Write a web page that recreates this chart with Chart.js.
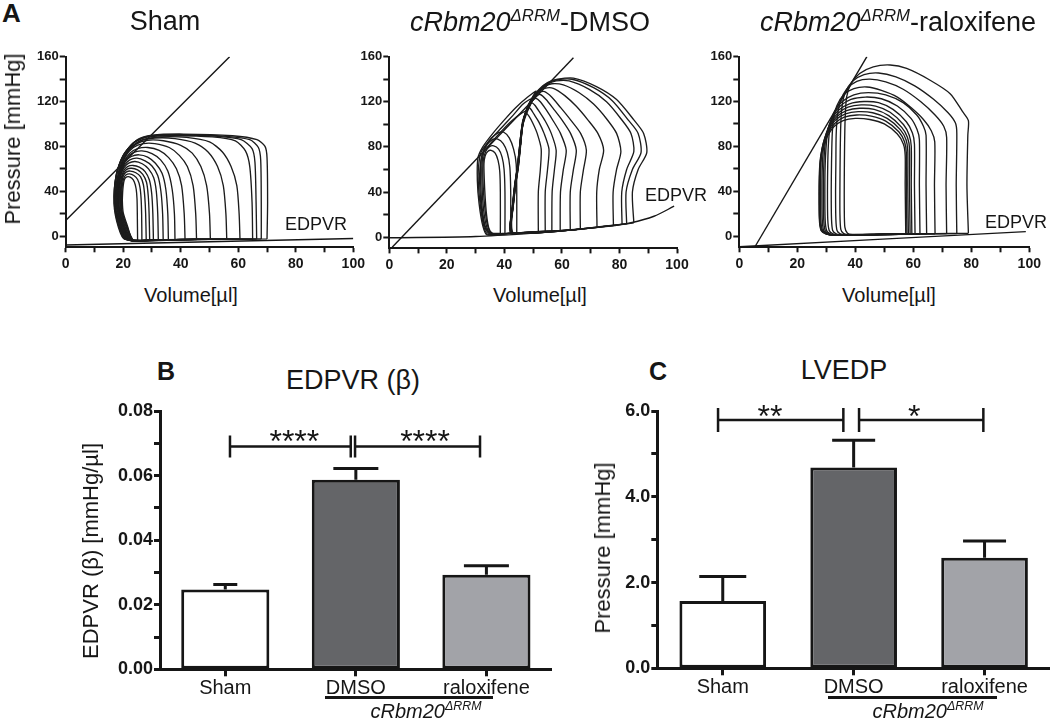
<!DOCTYPE html>
<html>
<head>
<meta charset="utf-8">
<script src="https://cdn.jsdelivr.net/npm/chart.js@4.4.1/dist/chart.umd.min.js"></script>
<style>
html, body { margin: 0; padding: 0; background: #fff; }
#fig { position: relative; width: 1050px; height: 719px; overflow: hidden; background: #fff; }
#fig canvas { position: absolute; }
.lbl { position: absolute; line-height: 1; white-space: nowrap; font-family: 'Liberation Sans', Arial, sans-serif; color: #161616; }
.lbl sup { font-size: 0.62em; vertical-align: 0; position: relative; top: -0.62em; }
.rule { position: absolute; background: #161616; }
</style>
</head>
<body>
<div id="fig">
  <canvas id="pvSham" width="380" height="250" style="left:0;top:30px"></canvas>
  <canvas id="pvDmso" width="350" height="250" style="left:360px;top:30px"></canvas>
  <canvas id="pvRalox" width="340" height="250" style="left:710px;top:30px"></canvas>
  <canvas id="barEdpvr" width="530" height="305" style="left:40px;top:395px"></canvas>
  <canvas id="barLvedp" width="475" height="305" style="left:575px;top:395px"></canvas>
</div>
<script>
// ---- data ----
const volumeTicks = [0, 10, 20, 30, 40, 50, 60, 70, 80, 90, 100];
const pressureTicks = [0, 20, 40, 60, 80, 100, 120, 140, 160];

// pressure-volume loops, [volume µl, pressure mmHg]
const shamLoops = [
  [[70,-2.5],[70.2,30],[70,70],[69.3,80],[66.5,86],[58,89.5],[41,91],[30,90],[25,86],[20.6,74],[17.7,56],[16.8,29],[18.3,8],[20.6,-3],[45,-2.8],[70,-2.5]],
  [[68,-2.5],[68,30],[67.8,68],[67,79],[64,86],[56,89],[40,90.5],[29.5,89.5],[24.5,85],[20.3,73],[17.6,55],[16.9,29],[18.5,8],[20.8,-3],[45,-2.8],[68,-2.5]],
  [[66.4,-2.6],[66.2,30],[65.8,66],[64.8,78],[61,86],[53,89],[39,90],[29,89],[24,84],[20,72],[17.6,54],[17,29],[18.7,8],[21,-3],[45,-2.8],[66.4,-2.6]],
  [[65,-2.6],[64.8,30],[64,62],[62.5,76],[59,85],[51,88.5],[38,89.5],[28.5,88.5],[23.5,83],[19.8,71],[17.6,53],[17.1,29],[18.8,8],[21.2,-3.2],[45,-3],[65,-2.6]],
  [[60.6,-2.7],[60.3,20],[59.5,45],[57.5,62],[54.5,75],[50,84],[42,88],[33,88.5],[27,86],[22.5,79],[19.5,66],[17.8,50],[17.3,28],[19,8],[21.4,-3.3],[40,-3],[60.6,-2.7]],
  [[56,-2.8],[55.7,20],[54.8,45],[52.8,62],[49.5,75],[45,83],[38,87],[31,87.5],[26,85],[22,77],[19.3,64],[17.8,48],[17.5,28],[19.2,8],[21.6,-3.4],[40,-3],[56,-2.8]],
  [[50.3,-2.9],[50,20],[49,45],[47,62],[44,74],[40,81],[34,85],[28.5,85.5],[24.5,82],[21.3,74],[19,61],[17.9,46],[17.7,28],[19.4,8],[21.8,-3.5],[35,-3.2],[50.3,-2.9]],
  [[45.5,-3],[45.2,20],[44.3,45],[42.3,62],[39.5,72],[36,79],[31,82.5],[27,82.5],[23.5,79],[20.8,71],[18.8,58],[18,44],[17.9,28],[19.6,8],[22,-3.6],[33,-3.3],[45.5,-3]],
  [[41.5,-3.1],[41.2,20],[40.3,45],[38.5,60],[35.8,70],[32.5,76.5],[28.5,79],[25,78],[22.3,74],[20.2,66],[18.7,55],[18.1,42],[18,28],[19.8,8],[22.2,-3.7],[32,-3.4],[41.5,-3.1]],
  [[38,-3.2],[37.8,20],[37,42],[35.5,58],[33,68],[30,73.5],[26.5,76],[23.5,74.5],[21.3,70],[19.7,62],[18.6,52],[18.2,40],[18.1,26],[20,8],[22.4,-3.8],[30,-3.5],[38,-3.2]],
  [[35.7,-3.3],[35.5,20],[34.8,42],[33.5,56],[31.2,65],[28.5,70.5],[25.5,72.5],[22.8,71],[20.8,66.5],[19.5,59],[18.6,50],[18.3,38],[18.3,25],[20.1,8],[22.6,-3.9],[29,-3.6],[35.7,-3.3]],
  [[33.9,-3.4],[33.7,20],[33.1,40],[32,54],[30,62.5],[27.6,67],[24.8,69.5],[22.3,68],[20.5,63.5],[19.3,57],[18.6,48],[18.4,37],[18.5,25],[20.3,8],[22.8,-4],[28,-3.7],[33.9,-3.4]],
  [[32.2,-3.5],[32,20],[31.5,40],[30.6,52],[28.8,60],[26.6,64.5],[24.1,66.5],[21.9,65],[20.3,61],[19.3,55],[18.7,46],[18.6,36],[18.7,24],[20.5,8],[23,-4],[27.5,-3.8],[32.2,-3.5]],
  [[30.5,-3.6],[30.3,20],[29.9,38],[29.1,50],[27.6,57.5],[25.6,61.5],[23.4,63],[21.5,62],[20.2,58.5],[19.4,52.5],[18.9,45],[18.8,35],[19,24],[20.7,8],[23.2,-4.1],[27,-3.9],[30.5,-3.6]],
  [[29.2,-3.7],[29,20],[28.7,36],[28.1,48],[26.8,55],[25,59],[22.9,60.5],[21.2,59.5],[20.1,56],[19.5,50.5],[19.1,43],[19,34],[19.3,23],[21,8],[23.4,-4.1],[26.5,-4],[29.2,-3.7]],
  [[28,-3.8],[27.8,20],[27.5,35],[27,46],[26,53],[24.4,56.5],[22.5,58],[21,57],[20.1,54],[19.6,49],[19.3,42],[19.2,33],[19.5,22],[21.2,8],[23.6,-4.2],[26,-4],[28,-3.8]],
  [[26.5,-3.9],[26.4,20],[26.2,34],[25.8,44],[25,50.5],[23.7,54],[22.2,55.5],[20.9,54.5],[20.2,51.5],[19.8,47],[19.5,40],[19.4,32],[19.7,21],[21.4,8],[23.6,-4.2],[26.5,-3.9]],
  [[25,-4],[24.9,20],[24.8,33],[24.5,42],[23.9,48],[23,51.5],[21.8,53],[20.8,52],[20.3,49.5],[20,45],[19.8,39],[19.7,31],[20,21],[21.6,8],[23.2,-4.2],[25,-4]]
];
const shamEspvr = [[0, 14], [57, 160]];
const shamEdpvr = [[0, -8], [100, -2.2]];

const dmsoLoops = [
  [[85,12.7],[84.5,40],[86.5,60],[89.5,75],[88.4,92],[85,104],[79,122],[72,133.5],[64,141],[58.5,140],[55,137],[52,131],[49.5,123],[47.5,112],[46.3,100],[45.5,80],[44.6,60],[43.7,45],[42.8,25],[42,10],[42.5,3.5],[60,5.5],[85,12.7]],
  [[82.5,11.8],[82.3,40],[84.5,60],[87.5,75],[86.5,92],[83,104],[77.5,121],[71,132.5],[63.5,140],[58.3,139.5],[55,136.5],[52.1,130.5],[49.6,122.5],[47.6,111.5],[46.4,100],[45.6,80],[44.7,60],[43.8,45],[42.9,25],[42.1,10],[42.6,3.5],[60,5.5],[82.5,11.8]],
  [[80.9,11.3],[80.8,40],[82.5,60],[85,76],[84,92],[80.5,105],[75.5,120],[69.5,131],[62.5,138.5],[58,138.5],[54.8,135.5],[52,130],[49.5,122],[47.5,111],[46.3,100],[45.5,80],[44.6,60],[43.7,45],[42.8,25],[42,10],[42.5,3.5],[60,5.5],[80.9,11.3]],
  [[77.9,10.3],[77.8,40],[79,60],[80.5,76],[79,92],[75.5,105],[71,118],[66,128],[60.5,135],[56.5,136],[54,133.5],[51.7,129],[49.3,121],[47.4,110],[46.2,100],[45.4,80],[44.5,60],[43.6,45],[42.7,25],[41.9,10],[42.4,3.5],[60,5.5],[77.9,10.3]],
  [[72.2,8.6],[72.1,40],[73,60],[74.5,77],[72.5,92],[69,104],[65,116],[61,125.5],[57,132],[54,132],[52,129],[50.5,124],[48.8,117],[47.3,108],[46.2,98],[45.4,80],[44.5,60],[43.6,45],[42.7,25],[42,10],[42.5,3.5],[58,5.3],[72.2,8.6]],
  [[66.4,7],[66.4,40],[67.5,60],[68.5,77],[66.5,92],[63,104],[59.5,115],[56.5,124],[54,129],[52,128],[50.5,124],[49,117],[47.5,108],[46.3,98],[45.5,80],[44.6,60],[43.7,45],[42.8,25],[42.1,10],[42.6,3.6],[55,5],[66.4,7]],
  [[62.9,6.3],[62.9,40],[64,60],[65,77],[63,92],[60,104],[57,114],[54.5,122],[52.5,126.5],[50.8,124.5],[49.5,121],[48,114],[46.8,105],[46,95],[45.4,80],[44.5,60],[43.6,45],[42.8,25],[42.1,10],[42.6,3.6],[52,4.8],[62.9,6.3]],
  [[59.4,5.8],[59.5,40],[60.5,60],[61.5,77],[59.5,92],[57,103],[54.5,113],[52.5,120],[51,123],[49.8,121],[48.6,116],[47.3,109],[46.3,100],[45.6,88],[45.2,75],[44.4,60],[43.5,45],[42.7,25],[42.2,10],[42.7,3.7],[50,4.6],[59.4,5.8]],
  [[56.5,5.4],[56.6,40],[57.4,60],[58,77],[56.3,92],[54.2,103],[52.2,111],[50.6,117],[49.5,119],[48.5,116],[47.5,110],[46.6,102],[45.9,92],[45.3,80],[44.5,62],[43.7,47],[42.9,27],[42.3,12],[42.8,3.8],[49,4.5],[56.5,5.4]],
  [[54.2,5.1],[54.2,40],[55,60],[55.5,78],[53.8,92],[52,102],[50.3,109],[49,114],[48.2,115],[47.5,111],[46.7,104],[46.1,97],[45.6,88],[45.2,78],[44.5,62],[43.7,47],[43,27],[42.4,12],[42.9,3.9],[48,4.4],[54.2,5.1]],
  [[51.8,4.8],[51.8,40],[52.5,60],[52.8,78],[51.4,92],[49.9,101],[48.6,107],[47.6,110],[47,108],[46.3,102],[45.9,95],[45.5,86],[45.1,76],[44.5,62],[43.8,47],[43.1,28],[42.5,13],[43,4],[47,4.3],[51.8,4.8]],
  [[42.5,3.5],[34,2],[32.5,10],[31.2,30],[30.6,50],[30.8,70],[32.5,80],[36,92],[40,104],[44,115],[48,124],[51,129.5],[50,125],[47.8,113],[46.5,101],[45.6,82],[44.6,60],[43.7,45],[42.8,25],[42,10],[42.5,3.5]],
  [[42.6,3.5],[34.5,2.2],[33,8],[31.8,25],[31,45],[31,62],[32,76],[35,86],[39,97],[43,108],[46.5,118],[49.3,122.5],[48,115],[46.6,103],[45.7,85],[44.8,62],[43.8,45],[42.9,25],[42.1,10],[42.6,3.5]],
  [[42.7,3.6],[35.2,2.3],[33.5,7],[32.2,22],[31.5,42],[31.5,60],[32.5,74],[35.5,84],[39,94],[42.5,103],[46,110],[47.4,111.5],[46.5,103],[45.8,88],[45,65],[44,47],[43,26],[42.2,11],[42.7,3.6]],
  [[44.3,4],[44.3,40],[44.1,65],[43.2,78],[41.7,88],[39.8,93],[37.8,92.5],[35.5,88],[33.5,81],[32.2,73],[31.7,62],[31.8,45],[32.3,25],[33.3,10],[35,3],[37,2.5],[44.3,4]],
  [[42.2,3.7],[42.2,40],[41.9,62],[41,75],[39.6,83],[37.7,87],[35.8,86.5],[34,82],[32.8,75],[32.2,65],[32.2,50],[32.5,32],[33.3,15],[34.5,5],[36.5,2.5],[42.2,3.7]],
  [[40.2,3.5],[40.2,40],[39.9,60],[39.2,71],[38,78],[36.3,81],[34.7,80],[33.5,76],[32.7,69],[32.5,58],[32.7,42],[33.2,26],[34,12],[35.2,4],[37,2.7],[40.2,3.5]],
  [[38.6,3.3],[38.6,40],[38.4,58],[37.8,68],[36.8,74.5],[35.4,77],[34.2,76],[33.3,72],[32.9,65],[33,52],[33.3,36],[33.8,20],[34.6,8],[35.8,3.5],[38.6,3.3]]
];
const dmsoEspvr = [[1, -9], [64, 159]];
const dmsoEdpvr = [[0,-0.6],[30,0.5],[50,3.5],[64,6.5],[76,9.5],[84,12.7],[92,18.5],[99,27.4]];

const raloxLoops = [
  [[79,2.5],[78.5,45],[78.8,90],[79,103],[77,111],[72.7,127],[65.8,139],[57.7,149.5],[52,152.6],[46.2,151],[41.5,145],[38.5,136],[37,124],[36.5,105],[36.3,80],[36.2,50],[36.2,25],[36.4,8],[37.3,2.5],[39,1.5],[55,2],[79,2.5]],
  [[75,2.3],[74.8,45],[75,92],[74.5,101],[72,110],[67,122],[60.5,134],[54,142],[48,145.5],[43,144],[39,138],[36.5,128],[35.4,115],[35,100],[34.8,75],[34.7,45],[34.7,20],[35,6],[36,2.2],[38,1.3],[55,1.8],[75,2.3]],
  [[71.5,2.2],[71.3,45],[71.5,88],[70.5,98],[67.5,108],[62.5,120],[56.5,131],[50.5,137.5],[45,140],[40.5,138],[37,131],[34.8,120],[33.8,106],[33.4,90],[33.3,65],[33.2,40],[33.3,15],[33.7,5],[34.8,2],[36.5,1.2],[50,1.7],[71.5,2.2]],
  [[67.5,2.1],[67.3,45],[67.4,84],[66.2,94],[63.5,104],[59.5,114],[54.5,124],[49,130],[44,133],[39.5,131.5],[36,126],[33.6,116],[32.4,103],[32,88],[31.8,65],[31.7,40],[31.8,15],[32.2,5],[33.4,2],[35,1.1],[50,1.6],[67.5,2.1]],
  [[64.6,2],[64.4,45],[64.4,90],[63.5,98],[61.2,108],[56.5,119],[50.5,126],[44.5,128],[39.5,126],[35.5,120],[32.8,111],[31.4,99],[30.8,85],[30.5,65],[30.4,40],[30.5,15],[31,5],[32.3,2],[34,1],[48,1.5],[64.6,2]],
  [[62.3,1.9],[62.1,45],[62.1,86],[61.3,95],[59.2,105],[54.5,116],[49,122.5],[43.5,124],[38.5,122],[34.8,116],[32.2,107],[30.7,96],[30,82],[29.6,62],[29.5,40],[29.6,15],[30.1,5],[31.4,2],[33,1],[46,1.4],[62.3,1.9]],
  [[60.6,1.8],[60.4,45],[60.4,82],[59.7,92],[57.6,102],[53,113],[48,119],[43,120],[38,118],[34.3,112.5],[31.8,104],[30.3,93],[29.5,80],[29.1,60],[29,40],[29.1,15],[29.6,5],[30.9,2],[32.5,1],[46,1.3],[60.6,1.8]],
  [[59.5,1.8],[59.3,45],[59.3,80],[58.6,90],[56.6,99.5],[52,110.5],[47,116],[42,117],[37.5,115],[34,109.5],[31.5,101],[29.9,91],[29,78],[28.6,60],[28.5,40],[28.6,15],[29.1,5],[30.5,2],[32,1],[46,1.3],[59.5,1.8]],
  [[58.9,1.7],[58.7,45],[58.7,78],[58,88],[56,97],[51.5,107.5],[46.5,113],[41.5,114],[37,112],[33.6,106.5],[31.2,98],[29.5,88],[28.5,76],[28.1,60],[28,40],[28.1,15],[28.7,5],[30.2,2],[32,1],[46,1.2],[58.9,1.7]],
  [[58.3,1.7],[58.1,45],[58.1,76],[57.5,86],[55.5,95],[51,105],[46,110],[41,111],[36.6,109],[33.2,103.5],[30.9,95],[29.2,85],[28.2,73],[27.8,58],[27.7,40],[27.8,15],[28.4,5],[30,2],[32,1],[46,1.2],[58.3,1.7]],
  [[57.8,1.7],[57.6,45],[57.6,74],[57,84],[55,93],[50.5,102.5],[45.5,107],[40.5,108],[36.2,106],[32.9,100.5],[30.6,92],[29,82],[28,70],[27.6,56],[27.5,40],[27.6,15],[28.2,5],[29.8,2],[32,1],[46,1.2],[57.8,1.7]],
  [[57.4,1.7],[57.2,45],[57.2,72],[56.6,82],[54.5,91],[50,100],[45,104],[40,105],[35.8,103],[32.6,97.5],[30.4,89],[28.9,79],[28,67],[27.7,54],[27.6,38],[27.7,15],[28.3,5],[30,2],[32,1],[46,1.3],[57.4,1.7]]
];
const raloxEspvr = [[5.4, -9.5], [44, 160]];
const raloxEdpvr = [[0, -9.5], [98.8, 4]];

// bar panels
const barGroups = ['Sham', 'DMSO', 'raloxifene'];
const edpvrMean = [0.0247, 0.0587, 0.0293];
const edpvrSem = [0.0016, 0.0035, 0.0028];
const edpvrTicks = [0, 0.01, 0.02, 0.03, 0.04, 0.05, 0.06, 0.07, 0.08];
const edpvrSig = [{ from: 0, to: 1, y: 0.069, label: '****' }, { from: 1, to: 2, y: 0.069, label: '****' }];
const lvedpMean = [1.57, 4.68, 2.58];
const lvedpSem = [0.57, 0.64, 0.39];
const lvedpTicks = [0, 1, 2, 3, 4, 5, 6];
const lvedpSig = [{ from: 0, to: 1, y: 5.79, label: '**' }, { from: 1, to: 2, y: 5.79, label: '*' }];

// ---- drawing ----
const INK = '#161616';
Chart.defaults.font.family = "'Liberation Sans', Arial, sans-serif";
Chart.defaults.color = INK;

const toXY = pts => pts.map(([x, y]) => ({ x, y }));

function makePv(id, loops, espvr, edpvr, g) {
  const datasets = loops.map(loop => ({
    data: toXY(loop), showLine: true, pointRadius: 0, borderColor: '#1c1c1c',
    borderWidth: 1.35, tension: 0.25, fill: false
  }));
  datasets.push({ data: toXY(espvr), showLine: true, pointRadius: 0, borderColor: INK, borderWidth: 1.4 });
  datasets.push({ data: toXY(edpvr), showLine: true, pointRadius: 0, borderColor: INK, borderWidth: 1.4, tension: 0.3 });

  new Chart(document.getElementById(id), {
    type: 'scatter',
    data: { datasets },
    options: {
      responsive: false, animation: false, devicePixelRatio: 1,
      layout: { padding: { top: g.padTop, right: g.padRight, left: 0, bottom: 0 } },
      plugins: { legend: { display: false }, tooltip: { enabled: false } },
      scales: {
        x: {
          type: 'linear', min: 0, max: 100,
          afterBuildTicks: s => { s.ticks = volumeTicks.map(v => ({ value: v })); },
          afterFit: s => { s.height = g.xHeight; },
          grid: { drawOnChartArea: false, tickLength: 5, tickWidth: 2, tickColor: INK },
          border: { width: 2, color: INK },
          ticks: { autoSkip: false, maxRotation: 0, padding: 3, color: INK,
            font: { size: 14, weight: 'bold' },
            callback: v => (v % 20 === 0 ? String(v) : '') }
        },
        y: {
          type: 'linear', min: -10, max: 160,
          afterBuildTicks: s => { s.ticks = pressureTicks.map(v => ({ value: v })); },
          afterFit: s => { s.width = g.yWidth; },
          grid: { drawOnChartArea: false, tickLength: 6, tickWidth: 2, tickColor: INK },
          border: { width: 2, color: INK },
          ticks: { autoSkip: false, padding: 1, color: INK,
            font: { size: 13, weight: 'bold' },
            callback: v => (v % 40 === 0 ? String(v) : '') }
        }
      }
    }
  });
}

function errorBars(sems, caps) {
  return {
    id: 'errorBars',
    afterDatasetsDraw(chart) {
      const { ctx, scales: { y } } = chart;
      const meta = chart.getDatasetMeta(0);
      const vals = chart.data.datasets[0].data;
      ctx.save();
      ctx.strokeStyle = INK; ctx.lineWidth = 3;
      meta.data.forEach((bar, i) => {
        const top = y.getPixelForValue(vals[i] + sems[i]);
        ctx.beginPath();
        ctx.moveTo(bar.x, bar.y); ctx.lineTo(bar.x, top);
        ctx.moveTo(bar.x - caps[i] / 2, top); ctx.lineTo(bar.x + caps[i] / 2, top);
        ctx.stroke();
      });
      ctx.restore();
    }
  };
}

function sigBrackets(items, st) {
  return {
    id: 'sigBrackets',
    afterDraw(chart) {
      const { ctx, scales: { x, y } } = chart;
      ctx.save();
      ctx.strokeStyle = INK; ctx.fillStyle = INK; ctx.lineWidth = 2.5;
      ctx.font = st.font; ctx.textAlign = 'center'; ctx.textBaseline = 'alphabetic';
      items.forEach((s, k) => {
        const o = st.offsets[k];
        const x1 = x.getPixelForValue(s.from) + o[0];
        const x2 = x.getPixelForValue(s.to) + o[1];
        const yy = y.getPixelForValue(s.y);
        ctx.beginPath();
        ctx.moveTo(x1, yy); ctx.lineTo(x2, yy);
        ctx.moveTo(x1, yy - st.cap); ctx.lineTo(x1, yy + st.cap);
        ctx.moveTo(x2, yy - st.cap); ctx.lineTo(x2, yy + st.cap);
        ctx.stroke();
        ctx.fillText(s.label, (x1 + x2) / 2 + o[2], yy + st.lift);
      });
      ctx.restore();
    }
  };
}

function makeBar(id, means, sems, ticks, yMax, digits, sig, g) {
  new Chart(document.getElementById(id), {
    type: 'bar',
    data: {
      labels: barGroups,
      datasets: [{
        data: means,
        backgroundColor: ['#ffffff', '#646568', '#a2a3a8'],
        borderColor: INK, borderWidth: 3, borderSkipped: false,
        barPercentage: g.barPct, categoryPercentage: 1
      }]
    },
    options: {
      responsive: false, animation: false, devicePixelRatio: 1,
      layout: { padding: { top: g.padTop, right: g.padRight, left: 0, bottom: 0 } },
      plugins: { legend: { display: false }, tooltip: { enabled: false } },
      scales: {
        x: {
          afterFit: s => { s.height = g.xHeight; },
          grid: { offset: false, drawOnChartArea: false, tickLength: 7, tickWidth: 3, tickColor: INK },
          border: { width: 3, color: INK },
          ticks: { padding: 0, color: INK, font: { size: 20 }, maxRotation: 0 }
        },
        y: {
          min: 0, max: yMax,
          afterBuildTicks: s => { s.ticks = ticks.map(v => ({ value: v })); },
          afterFit: s => { s.width = g.yWidth; },
          grid: { drawOnChartArea: false, tickLength: 6, tickWidth: 3, tickColor: INK },
          border: { width: 3, color: INK },
          ticks: { autoSkip: false, padding: 1, color: INK, font: { size: 18, weight: 'bold' },
            callback: (v, i) => (i % 2 === 0 ? Number(v).toFixed(digits) : '') }
        }
      }
    },
    plugins: [errorBars(sems, g.caps), sigBrackets(sig, g.sig)]
  });
}

makePv('pvSham', shamLoops, shamEspvr, shamEdpvr, { yWidth: 65.7, xHeight: 32.7, padTop: 26.7, padRight: 26.7 });
makePv('pvDmso', dmsoLoops, dmsoEspvr, dmsoEdpvr, { yWidth: 29.3, xHeight: 31.6, padTop: 26.7, padRight: 33 });
makePv('pvRalox', raloxLoops, raloxEspvr, raloxEdpvr, { yWidth: 29.3, xHeight: 32.7, padTop: 26.7, padRight: 20.7 });

makeBar('barEdpvr', edpvrMean, edpvrSem, edpvrTicks, 0.08, 2, edpvrSig, {
  yWidth: 120, xHeight: 30.7, padTop: 16, padRight: 18.3, barPct: 0.675, caps: [24, 45, 45],
  sig: { font: "32px 'Liberation Sans', Arial, sans-serif", cap: 11, lift: 5, offsets: [[4.7, -5.1, 4], [-0.8, -6.4, 7.5]] }
});
makeBar('barLvedp', lvedpMean, lvedpSem, lvedpTicks, 6, 1, lvedpSig, {
  yWidth: 82.3, xHeight: 31.7, padTop: 16, padRight: 0, barPct: 0.662, caps: [47, 43, 43],
  sig: { font: "32px 'Liberation Sans', Arial, sans-serif", cap: 12, lift: 7, offsets: [[-4.7, -10.3, -10.7], [5.4, -1.2, -7]] }
});

// ---- text ----
const fig = document.getElementById('fig');
function addText(html, x, baseline, size, opt = {}) {
  const el = document.createElement('div');
  el.className = 'lbl';
  el.innerHTML = html;
  el.style.fontSize = size + 'px';
  el.style.left = x + 'px';
  el.style.top = (baseline - 0.8465 * size) + 'px';
  if (opt.center) el.style.transform = 'translateX(-50%)';
  if (opt.bold) el.style.fontWeight = 'bold';
  if (opt.italic) el.style.fontStyle = 'italic';
  fig.appendChild(el);
}
function addVText(text, cx, cy, size) {
  const el = document.createElement('div');
  el.className = 'lbl';
  el.textContent = text;
  el.style.fontSize = size + 'px';
  el.style.left = cx + 'px';
  el.style.top = cy + 'px';
  el.style.transform = 'translate(-50%, -50%) rotate(-90deg)';
  fig.appendChild(el);
}
function addRule(x, y, w, h) {
  const el = document.createElement('div');
  el.className = 'rule';
  Object.assign(el.style, { left: x + 'px', top: y + 'px', width: w + 'px', height: h + 'px' });
  fig.appendChild(el);
}

const gene = '<i>cRbm20</i><sup><i>ΔRRM</i></sup>';
addText('A', 2, 22, 26, { bold: true });
addText('Sham', 165, 31, 27, { center: true });
addText(gene + '-DMSO', 530, 32, 27, { center: true });
addText(gene + '-raloxifene', 898, 32, 27, { center: true });
addVText('Pressure [mmHg]', 12.5, 139, 22);
addText('Volume[µl]', 191, 302, 20, { center: true });
addText('Volume[µl]', 540, 302, 20, { center: true });
addText('Volume[µl]', 889, 302, 20, { center: true });
addText('EDPVR', 285, 230, 18);
addText('EDPVR', 645, 201, 18);
addText('EDPVR', 985, 228, 18);

addText('B', 157, 380, 25, { bold: true });
addText('EDPVR (β)', 353, 389.5, 27, { center: true });
addVText('EDPVR (β) [mmHg/µl]', 91, 551, 22);
addRule(325, 696, 168, 2.5);
addText(gene, 426, 718, 20, { center: true });

addText('C', 649, 380, 25, { bold: true });
addText('LVEDP', 844, 380, 27, { center: true });
addVText('Pressure [mmHg]', 603, 548, 22);
addRule(828, 696, 169, 2.5);
addText(gene, 928, 718, 20, { center: true });
</script>
</body>
</html>
